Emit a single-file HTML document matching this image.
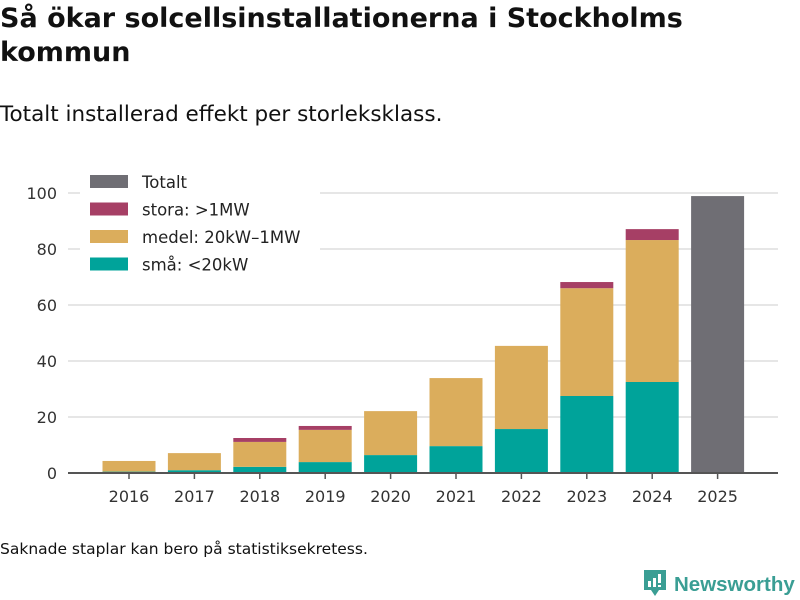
<!DOCTYPE html>
<html><head><meta charset="utf-8"><style>
body{margin:0;width:800px;height:600px;background:#fff;font-family:"DejaVu Sans","Liberation Sans",sans-serif;color:#111;overflow:hidden;position:relative}
h1{position:absolute;left:0;top:2px;margin:0;font-size:27px;line-height:34px;font-weight:bold;width:790px}
.sub{position:absolute;left:0;top:102px;font-size:21.5px}
.note{position:absolute;left:0;top:540px;font-size:15.5px}
.logo{position:absolute;left:644px;top:568px;font-size:20.5px;color:#3a9e94;font-weight:bold;white-space:nowrap;font-family:"Liberation Sans",sans-serif}
</style></head><body>
<h1>Så ökar solcellsinstallationerna i Stockholms kommun</h1>
<div class="sub">Totalt installerad effekt per storleksklass.</div>
<svg id="c" width="800" height="600" style="position:absolute;left:0;top:0"></svg>
<div class="note">Saknade staplar kan bero på statistiksekretess.</div>
<div class="logo"><svg width="24" height="30" style="vertical-align:-7px;margin-right:6px"><path d="M0 2 h22 v20 h-7 l-4 6 l-4 -6 h-7z" fill="#3a9e94"/><rect x="4" y="13" width="3" height="6" fill="#fff"/><rect x="9" y="10" width="3" height="9" fill="#fff"/><rect x="14" y="6" width="3" height="9" fill="#fff"/><rect x="14" y="17" width="3" height="2" fill="#fff"/></svg>Newsworthy</div>
<script>
const years=["2016","2017","2018","2019","2020","2021","2022","2023","2024","2025"];
const sma=[0.5,1.0,2.2,3.9,6.4,9.6,15.7,27.5,32.5,0];
const medel=[3.8,6.1,8.9,11.5,15.7,24.3,29.7,38.5,50.7,0];
const stora=[0,0,1.4,1.4,0,0,0,2.2,3.9,0];
const totalt=[0,0,0,0,0,0,0,0,0,98.9];
const yTicks=[0,20,40,60,80,100];
const NS="http://www.w3.org/2000/svg",svg=document.getElementById('c');
const y0=473,k=2.8,xl=68,xr=778,step=65.4,bw=53;
const y=v=>y0-v*k, xc=i=>129+i*step;
function mk(t,a){const e=document.createElementNS(NS,t);for(const n in a)e.setAttribute(n,a[n]);svg.appendChild(e);return e;}
yTicks.forEach(t=>{
 if(t>0){const g=mk('line',{x1:xl,x2:xr,y1:y(t),y2:y(t),stroke:'#ddd','stroke-width':1.5});
 
 }
 const l=mk('text',{x:57,y:y(t)+6,'text-anchor':'end','font-size':16,fill:'#333'});l.textContent=t;
 
 
});
const series=[[sma,'#00a39a','sma'],[medel,'#dbad5c','medel'],[stora,'#a63f65','stora'],[totalt,'#6f6e74','totalt']];
years.forEach((yr,i)=>{
 let acc=0;
 series.forEach(([arr,col,nm])=>{const v=arr[i];if(v>0){const r=mk('rect',{x:xc(i)-bw/2,y:y(acc+v),width:bw,height:v*k,fill:col});
 
 acc+=v;}});
 const tk=mk('line',{x1:xc(i),x2:xc(i),y1:y0,y2:y0+6,stroke:'#555','stroke-width':1.5});
 
 
 const l=mk('text',{x:xc(i),y:y0+29,'text-anchor':'middle','font-size':16,fill:'#333'});l.textContent=yr;
 
 
});
const ax=mk('line',{x1:xl,x2:xr,y1:y0,y2:y0,stroke:'#555','stroke-width':2});


const bg=mk('rect',{x:80,y:168,width:240,height:112,fill:'#fff'});


[['Totalt','#6f6e74'],['stora: >1MW','#a63f65'],['medel: 20kW–1MW','#dbad5c'],['små: <20kW','#00a39a']].forEach(([t,c],j)=>{
 const r=mk('rect',{x:90,y:175+j*27.5,width:38,height:13,fill:c});
 
 
 const l=mk('text',{x:142,y:188+j*27.5,'font-size':16.5,fill:'#222'});l.textContent=t;
 
 
});
</script>
</body></html>
